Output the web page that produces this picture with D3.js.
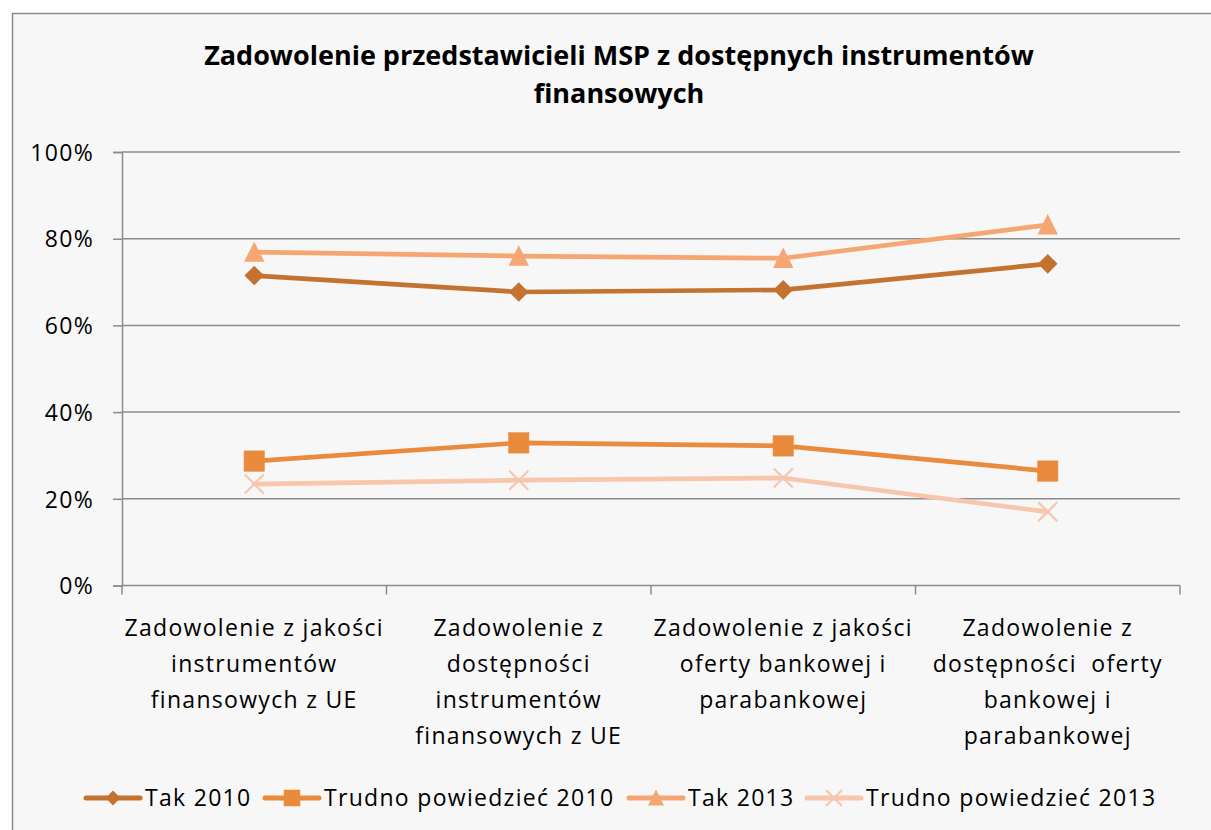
<!DOCTYPE html>
<html><head><meta charset="utf-8">
<script src="https://cdn.jsdelivr.net/npm/d3@7/dist/d3.min.js"></script>
<style>body{margin:0;background:#fff}svg{display:block}</style>
</head><body>
<script>
const categories = [
  ["Zadowolenie z jakości","instrumentów","finansowych z UE"],
  ["Zadowolenie z","dostępności","instrumentów","finansowych z UE"],
  ["Zadowolenie z jakości","oferty bankowej i","parabankowej"],
  ["Zadowolenie z","dostępności  oferty","bankowej i","parabankowej"]
];
const seriesNames = ["Tak 2010","Trudno powiedzieć 2010","Tak 2013","Trudno powiedzieć 2013"];
const tak2010 = [71.5, 67.7, 68.2, 74.2];
const trudno2010 = [28.7, 32.9, 32.2, 26.4];
const tak2013 = [76.9, 76.0, 75.5, 83.2];
const trudno2013 = [23.4, 24.3, 24.8, 17.0];
const yTicks = [0, 20, 40, 60, 80, 100];
const colors = ["#c4722f", "#e98a3c", "#f6a672", "#f8c6ac"];
const markers = ["diamond", "square", "triangle", "x"];
const seriesValues = [tak2010, trudno2010, tak2013, trudno2013];

const W = 1211, H = 830;
const svg = d3.select("body").append("svg").attr("width", W).attr("height", H);
svg.append("rect").attr("x",0).attr("y",0).attr("width",W).attr("height",H).attr("fill","#fff");
svg.append("rect").attr("x",12.5).attr("y",13.5).attr("width",W).attr("height",H)
  .attr("fill","#f7f7f7").attr("stroke","#8a8a8a").attr("stroke-width",1.5);

const FONT = "'Open Sans', Lato, 'Liberation Sans', sans-serif";
const FS = 23, LS = 1.3;
const title = svg.append("text").attr("x", 619).attr("font-family", FONT)
  .attr("font-weight","bold").attr("font-size", 27).attr("text-anchor","middle").attr("fill","#000");
title.append("tspan").attr("x",619).attr("y",65).text("Zadowolenie przedstawicieli MSP z dostępnych instrumentów");
title.append("tspan").attr("x",619).attr("y",103).text("finansowych");

const pLeft = 122, pRight = 1180, pTop = 152, pBottom = 585.5;
const x = d3.scaleBand().domain(d3.range(categories.length)).range([pLeft, pRight]);
const y = d3.scaleLinear().domain([0, 100]).range([pBottom, pTop]);

// gridlines
svg.append("g").selectAll("line").data(yTicks.filter(d => d > 0)).join("line")
  .attr("x1", pLeft).attr("x2", pRight).attr("y1", d => y(d)).attr("y2", d => y(d))
  .attr("stroke","#8c8c8c").attr("stroke-width",1.5);

// y axis
const yAxis = svg.append("g").attr("transform", `translate(${pLeft},0)`)
  .call(d3.axisLeft(y).tickValues(yTicks).tickSize(9).tickPadding(19).tickFormat(d => d + "%"));
yAxis.select(".domain").attr("stroke","#8c8c8c").attr("stroke-width",1.5);
yAxis.selectAll(".tick line").attr("stroke","#8c8c8c").attr("stroke-width",1.5);
yAxis.selectAll(".tick text").attr("font-family", FONT).attr("font-size", FS).attr("fill","#000")
  .attr("letter-spacing", LS).attr("dy","0.36em");

// x axis
svg.append("line").attr("x1",pLeft).attr("x2",pRight).attr("y1",pBottom).attr("y2",pBottom)
  .attr("stroke","#8c8c8c").attr("stroke-width",1.5);
const bounds = d3.range(categories.length + 1).map(i => i < categories.length ? x(i) : x(i-1) + x.bandwidth());
svg.append("g").selectAll("line").data(bounds).join("line")
  .attr("x1", d => d).attr("x2", d => d).attr("y1", pBottom).attr("y2", pBottom + 9)
  .attr("stroke","#8c8c8c").attr("stroke-width",1.5);
const catG = svg.append("g");
categories.forEach((lines, i) => {
  const t = catG.append("text").attr("font-family", FONT).attr("font-size", FS)
    .attr("letter-spacing", LS).attr("text-anchor","middle").attr("fill","#000");
  lines.forEach((l, j) => {
    t.append("tspan").attr("x", x(i) + x.bandwidth()/2).attr("y", 636 + j*36).attr("xml:space","preserve").text(l);
  });
});

function drawMarker(g, type, cx, cy, color, s) {
  if (type === "diamond") {
    g.append("path").attr("d", `M${cx},${cy-s}L${cx+s},${cy}L${cx},${cy+s}L${cx-s},${cy}Z`).attr("fill", color);
  } else if (type === "square") {
    g.append("rect").attr("x", cx - s).attr("y", cy - s).attr("width", 2*s).attr("height", 2*s)
      .attr("fill", color).attr("stroke", color).attr("stroke-width", 0.5);
  } else if (type === "triangle") {
    g.append("path").attr("d", `M${cx},${cy-s*1.05}L${cx+s},${cy+s*0.95}L${cx-s},${cy+s*0.95}Z`).attr("fill", color);
  } else {
    g.append("path").attr("d", `M${cx-s},${cy-s}L${cx+s},${cy+s}M${cx-s},${cy+s}L${cx+s},${cy-s}`)
      .attr("stroke", color).attr("stroke-width", 2.2);
  }
}

const line = d3.line().x((d, i) => x(i) + x.bandwidth()/2).y(d => y(d));
seriesValues.forEach((vals, k) => {
  const g = svg.append("g");
  g.append("path").attr("d", line(vals)).attr("fill","none").attr("stroke", colors[k])
    .attr("stroke-width", 4.7).attr("stroke-linejoin","round").attr("stroke-linecap","round");
  vals.forEach((v, i) => drawMarker(g, markers[k], x(i) + x.bandwidth()/2, y(v), colors[k], markers[k]==="diamond" ? 9.8 : (markers[k]==="x" ? 9.5 : 10.2)));
});

// legend
const legendX = [86, 265, 629, 807];
const legY = 798;
const lg = svg.append("g");
seriesNames.forEach((n, k) => {
  const x0 = legendX[k];
  lg.append("line").attr("x1", x0).attr("x2", x0 + 54).attr("y1", legY).attr("y2", legY)
    .attr("stroke", colors[k]).attr("stroke-width", 5).attr("stroke-linecap","round");
  drawMarker(lg, markers[k], x0 + 27, legY, colors[k], markers[k]==="diamond" ? 7.5 : 8);
  lg.append("text").attr("x", x0 + 59).attr("y", legY).attr("dy","0.36em")
    .attr("font-family", FONT).attr("font-size", FS).attr("letter-spacing", LS).attr("fill","#000").text(n);
});
</script>
</body></html>
